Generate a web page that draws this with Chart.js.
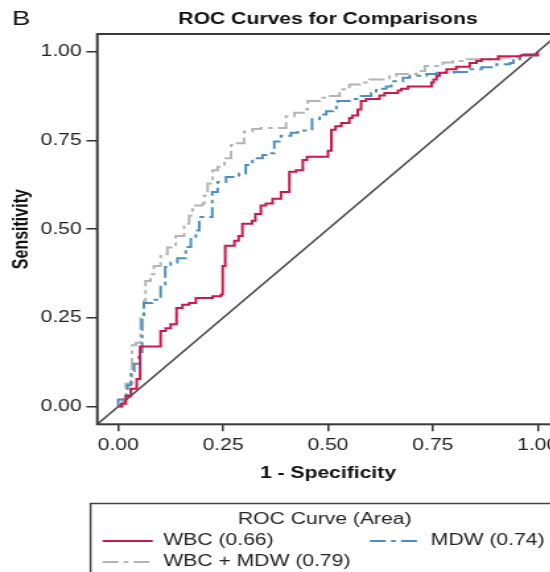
<!DOCTYPE html>
<html>
<head>
<meta charset="utf-8">
<title>ROC Curves for Comparisons</title>
<script src="https://cdn.jsdelivr.net/npm/chart.js@4.4.1/dist/chart.umd.min.js"></script>
<style>
  html, body { margin: 0; padding: 0; background: #fff; }
  #frame { width: 550px; height: 572px; overflow: hidden; }
  /* the figure is drawn narrow and widened, like the exported panel */
  #stretch { width: 430px; height: 572px; transform: scaleX(1.32); transform-origin: 0 0; }
</style>
</head>
<body>
<div id="frame"><div id="stretch"><canvas id="roc" width="430" height="572"></canvas></div></div>
<script>
const AXIS_MIN = -0.05;
const AXIS_MAX = 1.05;
const tickValues = [0, 0.25, 0.5, 0.75, 1];

// WBC alone
const wbcFpr = [0, 0.008, 0.018, 0.030, 0.044, 0.052, 0.101, 0.113, 0.125, 0.139, 0.153, 0.169, 0.185,
  0.225, 0.245, 0.249, 0.255, 0.277, 0.287, 0.296, 0.319, 0.327, 0.340, 0.352, 0.368, 0.388, 0.408, 0.424,
  0.440, 0.450, 0.500, 0.508, 0.518, 0.532, 0.551, 0.558, 0.571, 0.579, 0.591, 0.623, 0.635, 0.667, 0.675,
  0.691, 0.747, 0.752, 0.759, 0.766, 0.783, 0.806, 0.838, 0.854, 0.866, 0.906, 0.960, 1];
const wbcTpr = [0, 0.008, 0.030, 0.050, 0.078, 0.169, 0.213, 0.221, 0.232, 0.278, 0.287, 0.292, 0.306,
  0.311, 0.316, 0.396, 0.453, 0.467, 0.481, 0.515, 0.524, 0.543, 0.567, 0.572, 0.586, 0.605, 0.662, 0.666,
  0.695, 0.704, 0.721, 0.780, 0.790, 0.799, 0.813, 0.820, 0.837, 0.861, 0.867, 0.877, 0.884, 0.891, 0.896,
  0.902, 0.913, 0.922, 0.932, 0.941, 0.951, 0.958, 0.968, 0.974, 0.979, 0.987, 0.990, 1];

// MDW alone
const mdwFpr = [0, 0, 0.015, 0.022, 0.030, 0.038, 0.049, 0.057, 0.061, 0.081, 0.101, 0.112, 0.125, 0.141,
  0.161, 0.173, 0.185, 0.193, 0.224, 0.237, 0.257, 0.288, 0.304, 0.320, 0.344, 0.360, 0.372, 0.388, 0.412,
  0.428, 0.462, 0.480, 0.496, 0.512, 0.520, 0.523, 0.551, 0.575, 0.603, 0.615, 0.639, 0.651, 0.679, 0.695,
  0.735, 0.759, 0.800, 0.838, 0.866, 0.902, 0.934, 0.942, 0.958, 0.966, 1];
const mdwTpr = [0, 0.020, 0.020, 0.060, 0.100, 0.121, 0.154, 0.254, 0.292, 0.301, 0.344, 0.393, 0.406, 0.418,
  0.450, 0.472, 0.496, 0.534, 0.605, 0.633, 0.647, 0.657, 0.681, 0.700, 0.709, 0.714, 0.747, 0.763, 0.772,
  0.778, 0.810, 0.823, 0.832, 0.837, 0.851, 0.861, 0.867, 0.875, 0.884, 0.896, 0.902, 0.917, 0.927, 0.932,
  0.937, 0.941, 0.943, 0.951, 0.956, 0.965, 0.968, 0.979, 0.984, 0.993, 1];

// WBC + MDW
const comboFpr = [0, 0.010, 0.018, 0.033, 0.042, 0.053, 0.061, 0.065, 0.077, 0.085, 0.101, 0.117, 0.137,
  0.157, 0.169, 0.177, 0.201, 0.205, 0.213, 0.225, 0.237, 0.253, 0.269, 0.284, 0.300, 0.320, 0.340, 0.400,
  0.420, 0.448, 0.452, 0.480, 0.496, 0.528, 0.535, 0.551, 0.575, 0.599, 0.647, 0.663, 0.711, 0.731, 0.774,
  0.798, 0.831, 0.910, 0.958, 1];
const comboTpr = [0, 0.022, 0.064, 0.173, 0.180, 0.259, 0.297, 0.354, 0.373, 0.396, 0.429, 0.448, 0.481,
  0.515, 0.538, 0.567, 0.572, 0.595, 0.629, 0.666, 0.676, 0.700, 0.737, 0.742, 0.775, 0.782, 0.785, 0.818,
  0.828, 0.837, 0.861, 0.870, 0.875, 0.884, 0.894, 0.908, 0.913, 0.922, 0.932, 0.937, 0.946, 0.960, 0.970,
  0.974, 0.979, 0.984, 0.989, 1];

const curveLabels = ["WBC (0.66)", "MDW (0.74)", "WBC + MDW (0.79)"];
const referenceLine = [AXIS_MIN, AXIS_MAX];

const FONT = "'Liberation Sans', Arial, Helvetica, sans-serif";

function toPoints(xs, ys) {
  return xs.map((x, i) => ({ x: x, y: ys[i] }));
}

// panel letter, plot box and the boxed legend underneath
const stataDecor = {
  id: "stataDecor",
  afterDatasetsDraw(chart) {
    const { ctx, chartArea: a } = chart;
    ctx.save();
    ctx.strokeStyle = "#3a3a3a";
    ctx.lineWidth = 2;
    ctx.strokeRect(a.left, a.top, a.right - a.left, a.bottom - a.top);
    ctx.restore();
  },
  afterDraw(chart) {
    const ctx = chart.ctx;
    ctx.save();
    ctx.fillStyle = "#111";
    ctx.font = "21px " + FONT;
    ctx.textBaseline = "alphabetic";
    ctx.textAlign = "left";
    ctx.fillText("B", 9, 24.5);

    ctx.strokeStyle = "#444";
    ctx.lineWidth = 1.5;
    ctx.strokeRect(68.6, 503.5, chart.width + 20, 100);

    ctx.font = "16px " + FONT;
    ctx.fillStyle = "#222";
    ctx.textBaseline = "middle";
    ctx.textAlign = "center";
    ctx.fillText("ROC Curve (Area)", 246, 520);

    const slots = [{ x: 77.7, y: 541 }, { x: 280.3, y: 541 }, { x: 77.7, y: 562 }];
    ctx.textAlign = "left";
    slots.forEach((s, i) => {
      const ds = chart.data.datasets[i];
      ctx.beginPath();
      ctx.setLineDash(ds.borderDash || []);
      ctx.strokeStyle = ds.borderColor;
      ctx.lineWidth = ds.borderWidth;
      ctx.moveTo(s.x, s.y);
      ctx.lineTo(s.x + 38, s.y);
      ctx.stroke();
      ctx.setLineDash([]);
      ctx.fillText(ds.label, s.x + 46, s.y);
    });
    ctx.restore();
  }
};

const tickFont = { family: FONT, size: 16 };
const titleFont = { family: FONT, size: 16, weight: "bold" };

new Chart(document.getElementById("roc"), {
  type: "scatter",
  data: {
    datasets: [
      {
        label: curveLabels[0],
        data: toPoints(wbcFpr, wbcTpr),
        borderColor: "#c9184a",
        borderWidth: 2,
      },
      {
        label: curveLabels[1],
        data: toPoints(mdwFpr, mdwTpr),
        borderColor: "#4a8fc0",
        borderWidth: 2,
        borderDash: [12, 4, 3.5, 4],
      },
      {
        label: curveLabels[2],
        data: toPoints(comboFpr, comboTpr),
        borderColor: "#b4b4b4",
        borderWidth: 2,
        borderDash: [12, 4, 3.5, 4],
      },
      {
        label: "Reference",
        data: toPoints(referenceLine, referenceLine),
        borderColor: "#4a4a4a",
        borderWidth: 1.6,
        stepped: false,
      },
    ].map(ds => Object.assign({ showLine: true, pointRadius: 0, stepped: "before", fill: false }, ds)),
  },
  options: {
    responsive: false,
    animation: false,
    devicePixelRatio: 1,
    events: [],
    layout: { padding: { top: 0, left: 0, right: 6.8, bottom: 77.7 } },
    plugins: {
      legend: { display: false },
      tooltip: { enabled: false },
      title: {
        display: true,
        text: "ROC Curves for Comparisons",
        fullSize: false,
        color: "#111",
        font: titleFont,
        padding: { top: 10, bottom: 4.8 },
      },
    },
    scales: {
      x: {
        type: "linear",
        min: AXIS_MIN,
        max: AXIS_MAX,
        afterBuildTicks: s => { s.ticks = tickValues.map(v => ({ value: v })); },
        afterFit: s => { s.height = 70; },
        ticks: { callback: v => v.toFixed(2), font: tickFont, color: "#222", padding: 5, maxRotation: 0, autoSkip: false },
        grid: { drawOnChartArea: false, tickLength: 7, color: "#333", lineWidth: 1.5 },
        border: { display: false },
        title: { display: true, text: "1 - Specificity", color: "#111", font: titleFont, padding: { top: 0, bottom: 10.7 } },
      },
      y: {
        type: "linear",
        min: AXIS_MIN,
        max: AXIS_MAX,
        afterBuildTicks: s => { s.ticks = tickValues.map(v => ({ value: v })); },
        afterFit: s => { s.width = 73.7; },
        ticks: { callback: v => v.toFixed(2), font: tickFont, color: "#222", padding: 3.5, autoSkip: false },
        grid: { drawOnChartArea: false, tickLength: 8.3, color: "#333", lineWidth: 1.5 },
        border: { display: false },
        title: { display: true, text: "Sensitivity", color: "#111", font: titleFont, padding: { top: 7.4, bottom: 0 } },
      },
    },
  },
  plugins: [stataDecor],
});
</script>
</body>
</html>
